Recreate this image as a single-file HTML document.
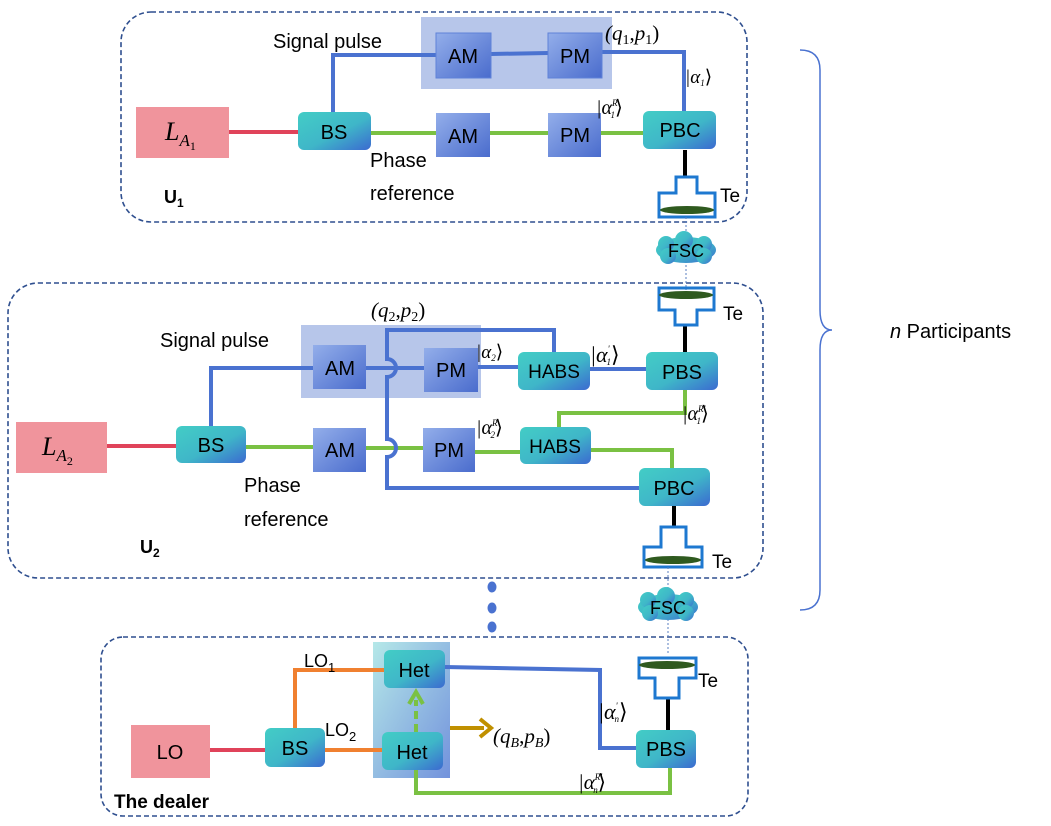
<!DOCTYPE html>
<html><head><meta charset="utf-8"><style>
html,body{margin:0;padding:0;background:#fff;}
svg text{font-family:"Liberation Sans",sans-serif;}
.m{font-family:"Liberation Serif",serif;font-style:italic;}
</style></head><body>
<svg width="1051" height="821" viewBox="0 0 1051 821" xmlns="http://www.w3.org/2000/svg">
<defs>
<linearGradient id="tg" x1="0" y1="0" x2="1" y2="1"><stop offset="0" stop-color="#43cdc6"/><stop offset="0.55" stop-color="#3fb6c8"/><stop offset="1" stop-color="#3b6ad0"/></linearGradient>
<linearGradient id="bg" x1="0" y1="0" x2="1" y2="1"><stop offset="0" stop-color="#93aeea"/><stop offset="1" stop-color="#4a6ccd"/></linearGradient>
<linearGradient id="hg" x1="0" y1="0" x2="1" y2="1"><stop offset="0" stop-color="#a8e4e4"/><stop offset="1" stop-color="#5a7fd6"/></linearGradient>
</defs>
<!-- panels -->
<g fill="none" stroke="#2f4f8f" stroke-width="1.6" stroke-dasharray="5,3">
<rect x="121" y="12" width="626" height="210" rx="30"/>
<rect x="8" y="283" width="755" height="295" rx="30"/>
<rect x="101" y="637" width="647" height="179" rx="22"/>
</g>

<!-- PANEL 1 -->
<rect x="421" y="17" width="191" height="72" fill="#b7c6ea"/>
<g fill="none" stroke-width="4">
<polyline points="333,112 333,55 436,55" stroke="#4a72d0"/>
<line x1="491" y1="54" x2="548" y2="53" stroke="#4a72d0"/>
<polyline points="602,52 684,52 684,111" stroke="#4a72d0"/>
<line x1="229" y1="132" x2="298" y2="132" stroke="#e0435a"/>
<line x1="371" y1="133" x2="643" y2="133" stroke="#7ac143"/>
<line x1="685" y1="150" x2="685" y2="177" stroke="#000"/>
</g>
<rect x="136" y="107" width="93" height="51" fill="#f0949c"/>
<text x="165" y="140" class="m" font-size="26">L<tspan font-size="17" dy="6">A</tspan><tspan font-size="12" dy="4" style="font-style:normal">1</tspan></text>
<rect x="298" y="112" width="73" height="38" rx="6" fill="url(#tg)"/>
<text x="334" y="139" font-size="20" text-anchor="middle">BS</text>
<rect x="436" y="33" width="55" height="45" fill="url(#bg)" stroke="#5f82d8"/>
<text x="463" y="63" font-size="20" text-anchor="middle">AM</text>
<rect x="548" y="33" width="54" height="45" fill="url(#bg)" stroke="#5f82d8"/>
<text x="575" y="63" font-size="20" text-anchor="middle">PM</text>
<rect x="436" y="113" width="54" height="44" fill="url(#bg)"/>
<text x="463" y="143" font-size="20" text-anchor="middle">AM</text>
<rect x="548" y="113" width="53" height="44" fill="url(#bg)"/>
<text x="575" y="142" font-size="20" text-anchor="middle">PM</text>
<rect x="643" y="111" width="73" height="38" rx="6" fill="url(#tg)"/>
<text x="680" y="137" font-size="20" text-anchor="middle">PBC</text>
<text x="273" y="48" font-size="20">Signal pulse</text>
<text x="605" y="40" class="m" font-size="21">(q<tspan font-size="14" dy="4" style="font-style:normal">1</tspan><tspan dy="-4" style="font-style:normal">,</tspan>p<tspan font-size="14" dy="4" style="font-style:normal">1</tspan><tspan dy="-4" style="font-style:normal">)</tspan></text>
<text x="685" y="83" class="m" font-size="19">|α<tspan font-size="9" dy="3">1</tspan><tspan dy="-3" style="font-style:normal">⟩</tspan></text>
<text x="596" y="114" class="m" font-size="20">|α<tspan font-size="9" dy="-8">R</tspan><tspan font-size="9" dx="-7" dy="12">1</tspan><tspan dy="-4" style="font-style:normal">⟩</tspan></text>
<text x="370" y="167" font-size="20">Phase</text>
<text x="370" y="200" font-size="20">reference</text>
<text x="164" y="203" font-size="18" font-weight="bold" font-family="Liberation Serif,serif">U<tspan font-size="12" dy="4">1</tspan></text>
<!-- Te1 -->
<path d="M676,177 H697 V193 H715 V217 H659 V193 H676 Z" fill="none" stroke="#1e78d0" stroke-width="3"/>
<ellipse cx="687" cy="210" rx="27" ry="4" fill="#2f5a1f"/>
<text x="720" y="202" font-size="19">Te</text>
<line x1="686" y1="217" x2="686" y2="290" stroke="#5a7fc0" stroke-width="1" stroke-dasharray="2,2"/>
<!-- FSC1 -->
<g fill="url(#tg)"><ellipse cx="686" cy="250" rx="30" ry="13"/><circle cx="666" cy="244" r="8"/><circle cx="684" cy="240" r="9"/><circle cx="704" cy="244" r="8"/><circle cx="668" cy="256" r="8"/><circle cx="704" cy="256" r="8"/></g>
<text x="686" y="257" font-size="18" text-anchor="middle">FSC</text>

<!-- PANEL 2 -->
<rect x="301" y="325" width="180" height="73" fill="#b7c6ea"/>
<g fill="none" stroke-width="4">
<polyline points="211,426 211,368 313,368" stroke="#4a72d0"/>
<line x1="366" y1="368" x2="424" y2="368" stroke="#4a72d0"/>
<line x1="478" y1="367" x2="518" y2="367" stroke="#4a72d0"/>
<line x1="590" y1="369" x2="646" y2="369" stroke="#4a72d0"/>
<line x1="107" y1="446" x2="176" y2="446" stroke="#e0435a"/>
<line x1="246" y1="447" x2="313" y2="447" stroke="#7ac143"/>
<line x1="366" y1="448" x2="423" y2="448" stroke="#7ac143"/>
<line x1="475" y1="452" x2="520" y2="452" stroke="#7ac143"/>
<polyline points="591,450 672,450 672,468" stroke="#7ac143"/>
<polyline points="559,427 559,413 685,413 685,390" stroke="#7ac143"/>
<path d="M554,352 V330 H387 V359 A9,9 0 0 1 387,377 V439 A9,9 0 0 1 387,457 V488 H640" stroke="#4a72d0"/>
<line x1="685" y1="325" x2="685" y2="352" stroke="#000"/>
<line x1="674" y1="506" x2="674" y2="527" stroke="#000"/>
</g>
<rect x="16" y="422" width="91" height="51" fill="#f0949c"/>
<text x="42" y="455" class="m" font-size="26">L<tspan font-size="17" dy="6">A</tspan><tspan font-size="12" dy="4" style="font-style:normal">2</tspan></text>
<rect x="176" y="426" width="70" height="37" rx="6" fill="url(#tg)"/>
<text x="211" y="452" font-size="20" text-anchor="middle">BS</text>
<rect x="313" y="345" width="53" height="44" fill="url(#bg)"/>
<text x="340" y="375" font-size="20" text-anchor="middle">AM</text>
<rect x="424" y="348" width="54" height="44" fill="url(#bg)"/>
<text x="451" y="377" font-size="20" text-anchor="middle">PM</text>
<rect x="518" y="352" width="72" height="38" rx="6" fill="url(#tg)"/>
<text x="554" y="378" font-size="19" text-anchor="middle">HABS</text>
<rect x="646" y="352" width="72" height="38" rx="6" fill="url(#tg)"/>
<text x="682" y="379" font-size="20" text-anchor="middle">PBS</text>
<rect x="313" y="428" width="53" height="44" fill="url(#bg)"/>
<text x="340" y="457" font-size="20" text-anchor="middle">AM</text>
<rect x="423" y="428" width="52" height="44" fill="url(#bg)"/>
<text x="449" y="457" font-size="20" text-anchor="middle">PM</text>
<rect x="520" y="427" width="71" height="37" rx="6" fill="url(#tg)"/>
<text x="555" y="453" font-size="19" text-anchor="middle">HABS</text>
<rect x="639" y="468" width="71" height="38" rx="6" fill="url(#tg)"/>
<text x="674" y="495" font-size="20" text-anchor="middle">PBC</text>
<text x="160" y="347" font-size="20">Signal pulse</text>
<text x="371" y="317" class="m" font-size="21">(q<tspan font-size="14" dy="4" style="font-style:normal">2</tspan><tspan dy="-4" style="font-style:normal">,</tspan>p<tspan font-size="14" dy="4" style="font-style:normal">2</tspan><tspan dy="-4" style="font-style:normal">)</tspan></text>
<text x="476" y="358" class="m" font-size="19">|α<tspan font-size="9" dy="3">2</tspan><tspan dy="-3" style="font-style:normal">⟩</tspan></text>
<text x="590" y="362" class="m" font-size="22">|α<tspan font-size="9" dy="-10">'</tspan><tspan font-size="9" dx="-3" dy="13">1</tspan><tspan dy="-3" style="font-style:normal">⟩</tspan></text>
<text x="476" y="434" class="m" font-size="20">|α<tspan font-size="9" dy="-8">R</tspan><tspan font-size="9" dx="-7" dy="12">2</tspan><tspan dy="-4" style="font-style:normal">⟩</tspan></text>
<text x="682" y="420" class="m" font-size="20">|α<tspan font-size="9" dy="-8">R'</tspan><tspan font-size="9" dx="-9" dy="12">1</tspan><tspan dy="-4" style="font-style:normal">⟩</tspan></text>
<text x="244" y="492" font-size="20">Phase</text>
<text x="244" y="526" font-size="20">reference</text>
<text x="140" y="553" font-size="18" font-weight="bold" font-family="Liberation Serif,serif">U<tspan font-size="12" dy="4">2</tspan></text>
<!-- Te2 top (inverted) -->
<path d="M659,288 H714 V310 H697 V325 H675 V310 H659 Z" fill="none" stroke="#1e78d0" stroke-width="3"/>
<ellipse cx="686" cy="295" rx="27" ry="4" fill="#2f5a1f"/>
<text x="723" y="320" font-size="19">Te</text>
<!-- Te2 bottom -->
<path d="M661,527 H686 V547 H702 V567 H644 V547 H661 Z" fill="none" stroke="#1e78d0" stroke-width="3"/>
<ellipse cx="673" cy="560" rx="28" ry="4" fill="#2f5a1f"/>
<text x="712" y="568" font-size="19">Te</text>
<line x1="668" y1="567" x2="668" y2="655" stroke="#5a7fc0" stroke-width="1" stroke-dasharray="2,2"/>
<!-- dots -->
<g fill="#4a72d0"><ellipse cx="492" cy="587" rx="4.5" ry="5.5"/><ellipse cx="492" cy="608" rx="4.5" ry="5.5"/><ellipse cx="492" cy="627" rx="4.5" ry="5.5"/></g>
<!-- FSC2 -->
<g fill="url(#tg)"><ellipse cx="668" cy="607" rx="30" ry="13"/><circle cx="648" cy="600" r="8"/><circle cx="666" cy="596" r="9"/><circle cx="686" cy="600" r="8"/><circle cx="650" cy="613" r="8"/><circle cx="686" cy="613" r="8"/></g>
<text x="668" y="614" font-size="18" text-anchor="middle">FSC</text>

<!-- PANEL 3 -->
<rect x="373" y="642" width="77" height="136" fill="url(#hg)" opacity="0.85"/>
<g fill="none" stroke-width="4">
<line x1="210" y1="750" x2="265" y2="750" stroke="#e0435a"/>
<polyline points="295,728 295,670 384,670" stroke="#f08030"/>
<line x1="325" y1="750" x2="382" y2="750" stroke="#f08030"/>
<polyline points="445,667 600,670 600,748 636,748" stroke="#4a72d0"/>
<polyline points="416,770 416,793 670,793 670,768" stroke="#7ac143"/>
<line x1="668" y1="698" x2="668" y2="730" stroke="#000"/>
<line x1="416" y1="732" x2="416" y2="700" stroke="#7ac143" stroke-dasharray="8,5"/>
<line x1="450" y1="728" x2="484" y2="728" stroke="#c09000"/>
</g>
<polyline points="409,704 416,692 423,704" fill="none" stroke="#7ac143" stroke-width="4"/>
<polyline points="480,719 491,728 480,737" fill="none" stroke="#c09000" stroke-width="4"/>
<rect x="131" y="725" width="79" height="53" fill="#f0949c"/>
<text x="170" y="759" font-size="20" text-anchor="middle">LO</text>
<rect x="265" y="728" width="60" height="39" rx="6" fill="url(#tg)"/>
<text x="295" y="755" font-size="20" text-anchor="middle">BS</text>
<rect x="384" y="650" width="61" height="38" rx="6" fill="url(#tg)"/>
<text x="414" y="677" font-size="20" text-anchor="middle">Het</text>
<rect x="382" y="732" width="61" height="38" rx="6" fill="url(#tg)"/>
<text x="412" y="759" font-size="20" text-anchor="middle">Het</text>
<rect x="636" y="730" width="60" height="38" rx="6" fill="url(#tg)"/>
<text x="666" y="756" font-size="20" text-anchor="middle">PBS</text>
<text x="304" y="667" font-size="18">LO<tspan font-size="13" dy="5">1</tspan></text>
<text x="325" y="736" font-size="18">LO<tspan font-size="13" dy="5">2</tspan></text>
<text x="493" y="743" class="m" font-size="21">(q<tspan font-size="14" dy="4">B</tspan><tspan dy="-4" style="font-style:normal">,</tspan>p<tspan font-size="14" dy="4">B</tspan><tspan dy="-4" style="font-style:normal">)</tspan></text>
<text x="598" y="719" class="m" font-size="22">|α<tspan font-size="9" dy="-10">'</tspan><tspan font-size="9" dx="-3" dy="13">n</tspan><tspan dy="-3" style="font-style:normal">⟩</tspan></text>
<text x="578" y="789" class="m" font-size="21">|α<tspan font-size="9" dy="-9">R'</tspan><tspan font-size="9" dx="-9" dy="13">n</tspan><tspan dy="-4" style="font-style:normal">⟩</tspan></text>
<text x="114" y="808" font-size="19" font-weight="bold">The dealer</text>
<!-- Te3 -->
<path d="M639,658 H696 V678 H679 V698 H655 V678 H639 Z" fill="none" stroke="#1e78d0" stroke-width="3"/>
<ellipse cx="667" cy="665" rx="28" ry="4" fill="#2f5a1f"/>
<text x="698" y="687" font-size="19">Te</text>

<!-- brace -->
<path d="M800,50 Q820,50 820,70 V310 Q820,330 832,330 Q820,330 820,350 V590 Q820,610 800,610" fill="none" stroke="#4a72d0" stroke-width="1.5"/>
<text x="890" y="338" font-size="20"><tspan font-style="italic">n</tspan> Participants</text>
</svg>
</body></html>
